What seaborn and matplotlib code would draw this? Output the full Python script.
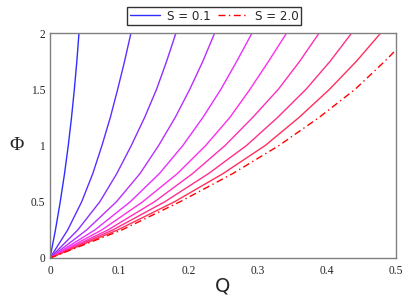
import numpy as np
import pandas as pd
import matplotlib
matplotlib.use("Agg")
import matplotlib.pyplot as plt
import seaborn as sns
from matplotlib.colors import hsv_to_rgb
from matplotlib.ticker import MultipleLocator

# Phi levels at which Q was read for each curve
phi_levels = [0.0, 0.25, 0.5, 0.75, 1.0, 1.25, 1.5, 1.75, 2.0]
q_c1 = [0.0, 0.0079, 0.0148, 0.0210, 0.0264, 0.0311, 0.0352, 0.0388, 0.0419]
q_c2 = [0.0, 0.0256, 0.0458, 0.0618, 0.0751, 0.0872, 0.0978, 0.1078, 0.117]
q_c3 = [0.0, 0.0402, 0.0720, 0.0965, 0.1175, 0.1368, 0.154, 0.1686, 0.182]
q_c4 = [0.0, 0.053, 0.096, 0.130, 0.157, 0.181, 0.202, 0.221, 0.238]
q_c5 = [0.0, 0.065, 0.116, 0.158, 0.192, 0.221, 0.247, 0.270, 0.292]
q_c6 = [0.0, 0.075, 0.134, 0.184, 0.225, 0.260, 0.289, 0.316, 0.342]
q_c7 = [0.0, 0.084, 0.151, 0.206, 0.253, 0.293, 0.330, 0.361, 0.389]
q_c8 = [0.0, 0.091, 0.166, 0.229, 0.284, 0.329, 0.370, 0.405, 0.436]
q_c9 = [0.0, 0.098, 0.180, 0.250, 0.311, 0.360, 0.404, 0.443, 0.478]
# last curve (S = 2.0), dash-dot
q_last = [0.0, 0.104, 0.188, 0.264, 0.331, 0.389, 0.441, 0.484, 0.5]
phi_last = [0.0, 0.25, 0.5, 0.75, 1.0, 1.25, 1.5, 1.75, 1.85]

solid_curves = [q_c1, q_c2, q_c3, q_c4, q_c5, q_c6, q_c7, q_c8, q_c9]
legend_labels = ["S = 0.1", "S = 2.0"]

x_ticks = [0, 0.1, 0.2, 0.3, 0.4, 0.5]
x_tick_labels = ["0", "0.1", "0.2", "0.3", "0.4", "0.5"]
y_ticks = [0, 0.5, 1, 1.5, 2]
y_tick_labels = ["0", "0.5", "1", "1.5", "2"]

sns.set_style("white")
plt.rcParams['font.family'] = ['DejaVu Sans']

fig = plt.figure(figsize=(4.03, 2.98), dpi=100)
ax = fig.add_axes([50/403, 1-258/298, 346/403, 225/298])

n = len(solid_curves) + 1
colors = [hsv_to_rgb([((240 + i * 120 / (n - 1)) / 360) % 1.0, 0.82, 1.0]) for i in range(n)]

handles = []
for i, q in enumerate(solid_curves):
    df = pd.DataFrame({"Q": q, "Phi": phi_levels})
    sns.lineplot(data=df, x="Q", y="Phi", sort=False, color=colors[i], lw=1.0, ax=ax)
    if i == 0:
        handles.append(ax.lines[-1])
df = pd.DataFrame({"Q": q_last, "Phi": phi_last})
sns.lineplot(data=df, x="Q", y="Phi", sort=False, color="red", lw=1.0, ax=ax)
ax.lines[-1].set_linestyle((0, (5, 2.5, 1, 2.5)))
handles.append(ax.lines[-1])

ax.set_xlim(0, 0.5)
ax.set_ylim(0, 2)
ax.set_xticks(x_ticks)
ax.set_xticklabels(x_tick_labels, family="Liberation Serif", fontsize=8.3)
ax.set_yticks(y_ticks)
ax.set_yticklabels(y_tick_labels, family="Liberation Serif", fontsize=8.3)
ax.xaxis.set_minor_locator(MultipleLocator(0.05))
ax.yaxis.set_minor_locator(MultipleLocator(0.1))
ax.tick_params(which="both", direction="in", color="#909090", length=3, width=0.6)
ax.tick_params(which="minor", length=1.5)
ax.tick_params(axis="x", pad=5)
for s in ax.spines.values():
    s.set_visible(True)
    s.set_color("#808080")
    s.set_linewidth(1.0)

ax.set_xlabel("Q", fontsize=14, labelpad=0)
ax.set_ylabel("Φ", fontsize=14, rotation=0, family="Liberation Serif", labelpad=10, va="center")

leg = fig.legend(handles, legend_labels, loc="lower center", bbox_to_anchor=(214/403, 1-25/298),
                 ncol=2, frameon=True, fancybox=False, fontsize=8.6, handlelength=2.5,
                 borderpad=0.2, columnspacing=0.6, handletextpad=0.6, borderaxespad=0)
leg.get_frame().set_edgecolor("black")
leg.get_frame().set_linewidth(1.0)

fig.savefig("out.png", dpi=100)
